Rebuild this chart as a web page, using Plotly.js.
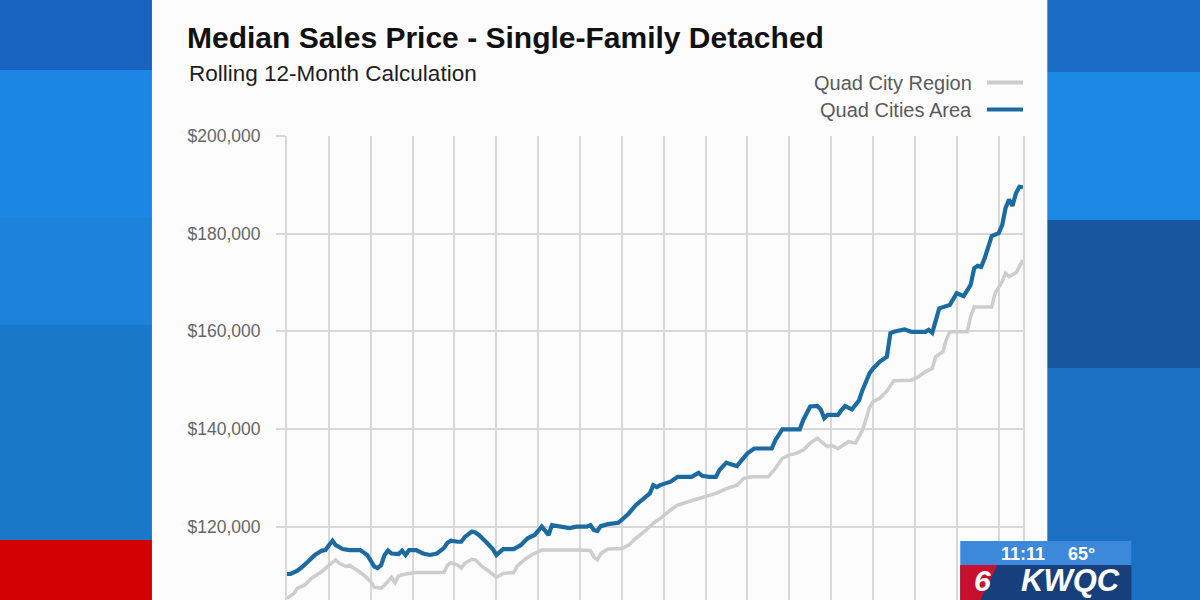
<!DOCTYPE html>
<html>
<head>
<meta charset="utf-8">
<script src="https://cdn.plot.ly/plotly-3.0.1.min.js"></script>
<style>
html,body{margin:0;padding:0;background:#1a78c8;}
#chart{width:1200px;height:600px;}
</style>
</head>
<body>
<div id="chart"></div>
<script>
// ---- Data ----
const areaMonths = ["2004-01","2004-02","2004-04","2004-05","2004-07","2004-09","2004-11","2004-12","2005-01","2005-02","2005-03","2005-05","2005-07","2005-10","2005-12","2006-01","2006-02","2006-03","2006-04","2006-05","2006-06","2006-07","2006-09","2006-10","2006-11","2006-12","2007-02","2007-04","2007-06","2007-08","2007-09","2007-10","2007-11","2007-12","2008-02","2008-03","2008-04","2008-05","2008-06","2008-07","2008-08","2008-10","2008-12","2009-01","2009-03","2009-06","2009-08","2009-10","2009-12","2010-02","2010-03","2010-04","2010-05","2010-07","2010-10","2010-12","2011-03","2011-04","2011-05","2011-06","2011-07","2011-09","2011-12","2012-01","2012-03","2012-05","2012-07","2012-09","2012-10","2012-11","2012-12","2013-03","2013-05","2013-09","2013-11","2013-12","2014-02","2014-04","2014-05","2014-07","2014-08","2014-10","2014-11","2015-01","2015-03","2015-08","2015-09","2015-11","2016-04","2016-05","2016-07","2016-09","2016-10","2016-11","2016-12","2017-03","2017-04","2017-05","2017-07","2017-09","2017-10","2017-12","2018-01","2018-03","2018-05","2018-06","2018-07","2018-09","2018-10","2018-12","2019-04","2019-05","2019-06","2019-08","2019-09","2019-11","2020-01","2020-03","2020-05","2020-06","2020-07","2020-08","2020-09","2020-10","2020-11","2021-01","2021-02","2021-03","2021-04","2021-05","2021-06","2021-07","2021-08"];
const quadCitiesArea = [110300,110300,111000,111500,112800,114200,115100,115200,116200,117100,116200,115400,115200,115200,114200,112800,111800,111500,112100,114200,115100,114500,114400,115100,114200,115200,115200,114500,114200,114500,115100,115600,116700,117100,116900,116900,117900,118500,119000,118800,118300,116900,115400,114200,115400,115400,116200,117600,118300,120000,119300,118300,120300,120000,119700,120000,120000,120300,119300,119100,120100,120500,120800,121400,122700,124400,125500,126800,128500,128100,128500,129200,130200,130200,131000,130400,130200,130200,131600,133100,132800,132400,133300,135000,136000,136000,137700,139900,139900,141800,144600,144700,144000,142200,142900,142900,143900,144700,144000,145900,148000,151400,152400,153800,154800,159600,159900,160100,160400,159900,159900,160300,159700,164700,165000,165400,167800,167200,169500,172900,173400,173200,175000,177300,179500,180100,181800,185200,187000,185700,188300,189600,189500];

const regionMonths = ["2004-01","2004-03","2004-04","2004-06","2004-08","2004-11","2005-01","2005-03","2005-04","2005-06","2005-07","2005-09","2005-11","2006-01","2006-02","2006-04","2006-05","2006-07","2006-08","2006-09","2006-11","2007-02","2007-10","2007-11","2007-12","2008-02","2008-03","2008-04","2008-06","2008-07","2008-09","2008-11","2009-01","2009-03","2009-06","2009-07","2009-09","2009-11","2010-02","2010-12","2011-04","2011-05","2011-06","2011-07","2011-09","2012-01","2012-03","2012-05","2012-08","2012-10","2012-12","2013-03","2013-05","2013-08","2013-11","2014-02","2014-04","2014-07","2014-10","2014-12","2015-02","2015-07","2015-09","2015-11","2016-01","2016-03","2016-05","2016-07","2016-09","2016-11","2016-12","2017-01","2017-03","2017-06","2017-08","2017-10","2017-12","2018-01","2018-03","2018-05","2018-07","2018-12","2019-02","2019-04","2019-06","2019-07","2019-09","2019-10","2019-11","2020-04","2020-05","2020-06","2020-11","2020-12","2021-02","2021-03","2021-04","2021-06","2021-07","2021-08"];
const quadCityRegion = [105300,106300,107400,108000,109400,110800,112100,113200,112500,111800,112100,111100,110100,108700,107600,107400,108000,109600,108500,109900,110300,110600,110600,112100,112600,112100,111500,112500,113300,113200,111800,110800,109600,110400,110600,111900,113200,114200,115200,115200,115100,113800,113200,114500,115400,115500,116200,117600,119300,120700,121700,123400,124400,125100,125800,126500,126800,127800,128500,129900,130200,130200,131900,134000,134700,135000,135700,137100,138100,136900,136400,136700,136000,137400,137100,139800,144400,145600,146300,147800,149900,150000,150700,151700,152400,154800,155800,158200,159900,159900,163000,165000,165000,167800,170200,171900,171200,172000,173200,174600];

const seriesNames = ["Quad City Region", "Quad Cities Area"];
const yTickVals = [100000, 120000, 140000, 160000, 180000, 200000];

// ---- Layout helpers (pixel -> paper fraction) ----
const PL = 287, PR = 1022.7, PT = 136, PB = 600;
const fx = x => (x - PL) / (PR - PL);
const fy = y => (PB - y) / (PB - PT);
function rect(x0, y0, x1, y1, color) {
  return {type:'rect', xref:'paper', yref:'paper', x0:fx(x0), x1:fx(x1), y0:fy(y1), y1:fy(y0),
          fillcolor:color, line:{width:0}, layer:'below'};
}
function hline(x0, x1, y, color, w) {
  return {type:'line', xref:'paper', yref:'paper', x0:fx(x0), x1:fx(x1), y0:fy(y), y1:fy(y),
          line:{color:color, width:w}};
}
function poly(pts, color) {
  const d = pts.map((p,i)=>(i?'L':'M')+fx(p[0])+','+fy(p[1])).join(' ')+' Z';
  return {type:'path', xref:'paper', yref:'paper', path:d, fillcolor:color, line:{width:0}, layer:'above'};
}

const GRAY = '#cdcdcd', BLUE = '#1b6ba2', GRID = '#d8d8d8';
const FONT = 'Liberation Sans, Arial, Helvetica, sans-serif';

const traces = [
  {x: regionMonths, y: quadCityRegion, name: seriesNames[0], type:'scatter', mode:'lines',
   line:{color:GRAY, width:3.5}, showlegend:false, hoverinfo:'skip'},
  {x: areaMonths, y: quadCitiesArea, name: seriesNames[1], type:'scatter', mode:'lines',
   line:{color:BLUE, width:4.2}, showlegend:false, hoverinfo:'skip'}
];

const shapes = [
  // broadcast background
  rect(0, 0, 152, 70, '#1863bf'),
  rect(0, 70, 152, 218, '#1b86e4'),
  rect(0, 218, 152, 325, '#1c82da'),
  rect(0, 325, 152, 540, '#1978c8'),
  rect(0, 540, 152, 600, '#d20000'),
  rect(1047, 0, 1200, 72, '#1a6cc6'),
  rect(1047, 72, 1200, 220, '#1b88e4'),
  rect(1047, 220, 1200, 368, '#16579f'),
  rect(1047, 368, 1200, 600, '#1a70c2'),
  // white chart panel
  rect(152, 0, 1047, 600, '#fcfcfc'),
  // station bug
  Object.assign(rect(960, 541, 1131, 565, '#3c88da'), {layer:'above'}),
  Object.assign(rect(960, 565, 1131, 600, '#173f7c'), {layer:'above'}),
  poly([[960,565],[997,565],[980,600],[960,600]], '#c8102e'),
  // legend swatches
  hline(986.7, 1022.7, 82.5, GRAY, 4),
  hline(986.7, 1022.7, 109.5, BLUE, 4)
];

const annotations = [
  {xref:'paper', yref:'paper', x:fx(187), y:fy(73), xanchor:'left', yanchor:'middle', showarrow:false,
   text:'Rolling 12-Month Calculation', font:{family:FONT, size:22.5, color:'#1e1e1e'}},
  {xref:'paper', yref:'paper', x:fx(974), y:fy(83), xanchor:'right', yanchor:'middle', showarrow:false,
   text:seriesNames[0], font:{family:FONT, size:20, color:'#5a5a5a'}},
  {xref:'paper', yref:'paper', x:fx(974), y:fy(110), xanchor:'right', yanchor:'middle', showarrow:false,
   text:seriesNames[1], font:{family:FONT, size:20, color:'#5a5a5a'}},
  {xref:'paper', yref:'paper', x:fx(1023), y:fy(554), xanchor:'center', yanchor:'middle', showarrow:false,
   text:'<b>11:11</b>', font:{family:FONT, size:18, color:'#ffffff'}},
  {xref:'paper', yref:'paper', x:fx(1081), y:fy(554), xanchor:'center', yanchor:'middle', showarrow:false,
   text:'<b>65°</b>', font:{family:FONT, size:18, color:'#ffffff'}},
  {xref:'paper', yref:'paper', x:fx(982), y:fy(580), xanchor:'center', yanchor:'middle', showarrow:false,
   text:'<b><i>6</i></b>', font:{family:FONT, size:30, color:'#ffffff'}},
  {xref:'paper', yref:'paper', x:fx(1070), y:fy(580), xanchor:'center', yanchor:'middle', showarrow:false,
   text:'<b><i>KWQC</i></b>', font:{family:FONT, size:31, color:'#ffffff'}}
];

const layout = {
  width:1200, height:600,
  margin:{l:PL, r:1200-PR, t:PT, b:0, pad:0},
  paper_bgcolor:'#1a78c8',
  plot_bgcolor:'rgba(0,0,0,0)',
  showlegend:false,
  title:{text:'<b>Median Sales Price - Single-Family Detached</b>',
         font:{family:FONT, size:30, color:'#111111'},
         xref:'container', yref:'container', x:187/1200, xanchor:'left', y:1-37.5/600, yanchor:'middle'},
  xaxis:{type:'date', range:['2004-01-01','2021-08-01'], dtick:'M12', tick0:'2004-01-01',
         showgrid:true, gridcolor:GRID, gridwidth:2, showticklabels:false, ticks:'',
         zeroline:false, showline:false, fixedrange:true},
  yaxis:{range:[104973, 200000], tickvals:yTickVals, tickformat:'$,.0f',
         showgrid:true, gridcolor:GRID, gridwidth:2, zeroline:false,
         ticks:'outside', ticklen:9, tickwidth:2, tickcolor:GRID,
         showline:true, mirror:true, linecolor:GRID, linewidth:2,
         ticklabelstandoff:12,
         tickfont:{family:FONT, size:17.5, color:'#666666'}, fixedrange:true},
  shapes:shapes,
  annotations:annotations
};

Plotly.newPlot('chart', traces, layout, {staticPlot:true, displayModeBar:false});
</script>
</body>
</html>
